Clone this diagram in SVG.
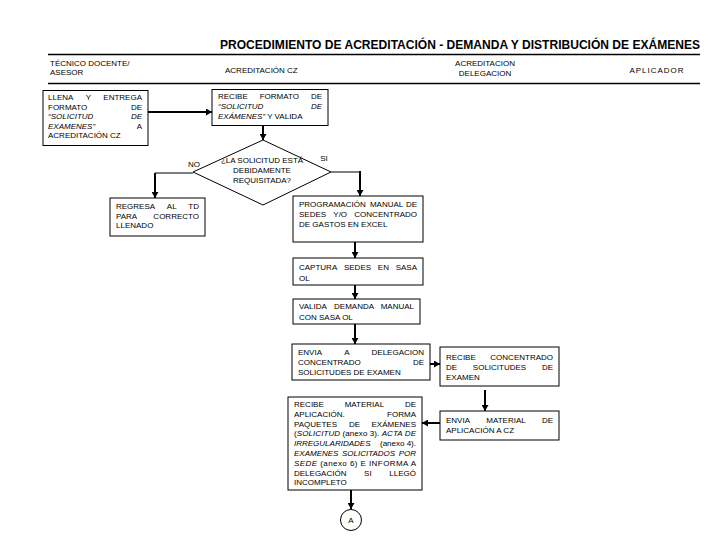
<svg xmlns="http://www.w3.org/2000/svg" width="720" height="540" viewBox="0 0 720 540">
<defs>
<marker id="ah" markerWidth="7" markerHeight="7" refX="6" refY="3.5" orient="auto" markerUnits="userSpaceOnUse"><path d="M0,0 L6,3.5 L0,7 z" fill="#000"/></marker>
</defs>
<style>
text{font-family:"Liberation Sans",Arial,sans-serif;font-size:8px;fill:#000}
.t{font-size:12.5px;font-weight:bold}
.box{fill:#fff;stroke:#000;stroke-width:1}
.m{text-anchor:middle}
.e{text-anchor:end}
.i{font-style:italic}
.c{fill:none;stroke:#000;stroke-width:2}
.thin{fill:none;stroke:#000;stroke-width:1}
.hl{stroke:#000;stroke-width:1.3}
</style>
<rect width="720" height="540" fill="#fff"/>
<g id="header">
<text x="220" y="49" class="t" textLength="480" lengthAdjust="spacingAndGlyphs">PROCEDIMIENTO DE ACREDITACIÓN - DEMANDA Y DISTRIBUCIÓN DE EXÁMENES</text>
<line x1="48" y1="54.5" x2="700" y2="54.5" class="hl"/>
<line x1="48" y1="83.5" x2="700" y2="83.5" class="hl"/>
<text x="50" y="66">TÉCNICO DOCENTE/</text>
<text x="50" y="75">ASESOR</text>
<text x="225" y="73">ACREDITACIÓN CZ</text>
<text x="485" y="66" class="m">ACREDITACION</text>
<text x="485" y="76" class="m">DELEGACION</text>
<text x="657" y="73" class="m" letter-spacing="1">APLICADOR</text>
</g>
<g id="connectors">
<line x1="148" y1="112" x2="212" y2="112" class="c" marker-end="url(#ah)"/>
<line x1="263" y1="126" x2="263" y2="140" class="c" marker-end="url(#ah)"/>
<polyline points="193,173 155,173" class="thin"/>
<line x1="155" y1="173" x2="155" y2="198" class="c" marker-end="url(#ah)"/>
<polyline points="331,172 360,172" class="thin"/>
<line x1="360" y1="171" x2="360" y2="196" class="c" marker-end="url(#ah)"/>
<line x1="355" y1="242" x2="355" y2="258" class="c" marker-end="url(#ah)"/>
<line x1="355" y1="285" x2="355" y2="299" class="c" marker-end="url(#ah)"/>
<line x1="355" y1="324" x2="355" y2="344" class="c" marker-end="url(#ah)"/>
<line x1="430" y1="364" x2="440" y2="364" class="c" marker-end="url(#ah)"/>
<line x1="485" y1="390" x2="485" y2="411" class="c" marker-end="url(#ah)"/>
<line x1="440" y1="423" x2="422" y2="423" class="c" marker-end="url(#ah)"/>
<line x1="351" y1="490" x2="351" y2="509" class="c" marker-end="url(#ah)"/>
</g>
<g id="n-llena">
<rect x="43" y="90.5" width="105" height="55" class="box"/>
<text y="100"><tspan x="48">LLENA</tspan><tspan x="88.3" class="m">Y</tspan><tspan x="142" class="e">ENTREGA</tspan></text>
<text y="109.5"><tspan x="48">FORMATO</tspan><tspan x="142" class="e">DE</tspan></text>
<text y="119" class="i"><tspan x="48">“SOLICITUD</tspan><tspan x="142" class="e">DE</tspan></text>
<text y="128.5"><tspan x="48" class="i">EXAMENES”</tspan><tspan x="142" class="e">A</tspan></text>
<text y="138" x="48">ACREDITACIÓN CZ</text>
</g>
<g id="n-recibe-formato">
<rect x="212" y="89.5" width="116" height="36" class="box"/>
<text y="99"><tspan x="218">RECIBE</tspan><tspan x="279.3" class="m">FORMATO</tspan><tspan x="322" class="e">DE</tspan></text>
<text y="109" class="i"><tspan x="218">“SOLICITUD</tspan><tspan x="322" class="e">DE</tspan></text>
<text y="119" x="218"><tspan class="i">EXÁMENES”</tspan> Y VALIDA</text>
</g>
<g id="n-decision">
<polygon points="263,140 331,172 263,205 193,172" class="box"/>
<text x="262" y="163" class="m">¿LA SOLICITUD ESTÁ</text>
<text x="262" y="173" class="m">DEBIDAMENTE</text>
<text x="262" y="183" class="m">REQUISITADA?</text>
<text x="194" y="167" class="m">NO</text>
<text x="324" y="161" class="m">SI</text>
</g>
<g id="n-regresa">
<rect x="110" y="198" width="95" height="38" class="box"/>
<text y="209"><tspan x="116">REGRESA</tspan><tspan x="171.7" class="m">AL</tspan><tspan x="199" class="e">TD</tspan></text>
<text y="218.5"><tspan x="116">PARA</tspan><tspan x="199" class="e">CORRECTO</tspan></text>
<text y="228" x="116">LLENADO</text>
</g>
<g id="n-programacion">
<rect x="293" y="196" width="130" height="46" class="box"/>
<text y="207"><tspan x="299">PROGRAMACIÓN</tspan><tspan x="386.6" class="m">MANUAL</tspan><tspan x="417" class="e">DE</tspan></text>
<text y="217"><tspan x="299">SEDES</tspan><tspan x="340.2" class="m">Y/O</tspan><tspan x="417" class="e">CONCENTRADO</tspan></text>
<text y="227" x="299">DE GASTOS EN EXCEL</text>
</g>
<g id="n-captura">
<rect x="293" y="258" width="130" height="27" class="box"/>
<text y="270"><tspan x="299">CAPTURA</tspan><tspan x="357.5" class="m">SEDES</tspan><tspan x="383.4" class="m">EN</tspan><tspan x="417" class="e">SASA</tspan></text>
<text y="281" x="299">OL</text>
</g>
<g id="n-valida">
<rect x="293" y="299" width="127" height="25" class="box"/>
<text y="309"><tspan x="299">VALIDA</tspan><tspan x="354.1" class="m">DEMANDA</tspan><tspan x="414" class="e">MANUAL</tspan></text>
<text y="320" x="299">CON SASA OL</text>
</g>
<g id="n-envia-delegacion">
<rect x="292" y="344" width="138" height="36" class="box"/>
<text y="355"><tspan x="298">ENVIA</tspan><tspan x="346.8" class="m">A</tspan><tspan x="424" class="e">DELEGACION</tspan></text>
<text y="365"><tspan x="298">CONCENTRADO</tspan><tspan x="424" class="e">DE</tspan></text>
<text y="375" x="298">SOLICITUDES DE EXAMEN</text>
</g>
<g id="n-recibe-concentrado">
<rect x="440" y="347" width="119" height="39" class="box"/>
<text y="360"><tspan x="446">RECIBE</tspan><tspan x="553" class="e">CONCENTRADO</tspan></text>
<text y="370"><tspan x="446">DE</tspan><tspan x="499.5" class="m">SOLICITUDES</tspan><tspan x="553" class="e">DE</tspan></text>
<text y="380" x="446">EXAMEN</text>
</g>
<g id="n-envia-material">
<rect x="440" y="411" width="119" height="29" class="box"/>
<text y="423"><tspan x="446">ENVIA</tspan><tspan x="506" class="m">MATERIAL</tspan><tspan x="553" class="e">DE</tspan></text>
<text y="433" x="446">APLICACIÓN A CZ</text>
</g>
<g id="n-recibe-material">
<rect x="288" y="397" width="134" height="93" class="box"/>
<text y="407"><tspan x="294">RECIBE</tspan><tspan x="364.4" class="m">MATERIAL</tspan><tspan x="416" class="e">DE</tspan></text>
<text y="417"><tspan x="294">APLICACIÓN.</tspan><tspan x="416" class="e">FORMA</tspan></text>
<text y="427"><tspan x="294">PAQUETES</tspan><tspan x="354.6" class="m">DE</tspan><tspan x="416" class="e">EXÁMENES</tspan></text>
<text y="436" x="294" textLength="122" lengthAdjust="spacing">(<tspan class="i">SOLICITUD</tspan> (anexo 3). <tspan class="i">ACTA DE</tspan></text>
<text y="446"><tspan x="294" class="i">IRREGULARIDADES</tspan><tspan x="416" class="e">(anexo 4).</tspan></text>
<text y="456" class="i"><tspan x="294">EXAMENES</tspan><tspan x="368.6" class="m">SOLICITADOS</tspan><tspan x="416" class="e">POR</tspan></text>
<text y="466" x="294" textLength="122" lengthAdjust="spacing"><tspan class="i">SEDE</tspan> (anexo 6) E INFORMA A</text>
<text y="476"><tspan x="294">DELEGACIÓN</tspan><tspan x="367.9" class="m">SI</tspan><tspan x="416" class="e">LLEGÓ</tspan></text>
<text y="485" x="294">INCOMPLETO</text>
</g>
<g id="n-connector-a">
<circle cx="351" cy="520" r="10.5" class="box"/>
<text x="351" y="523" class="m">A</text>
</g>
</svg>
